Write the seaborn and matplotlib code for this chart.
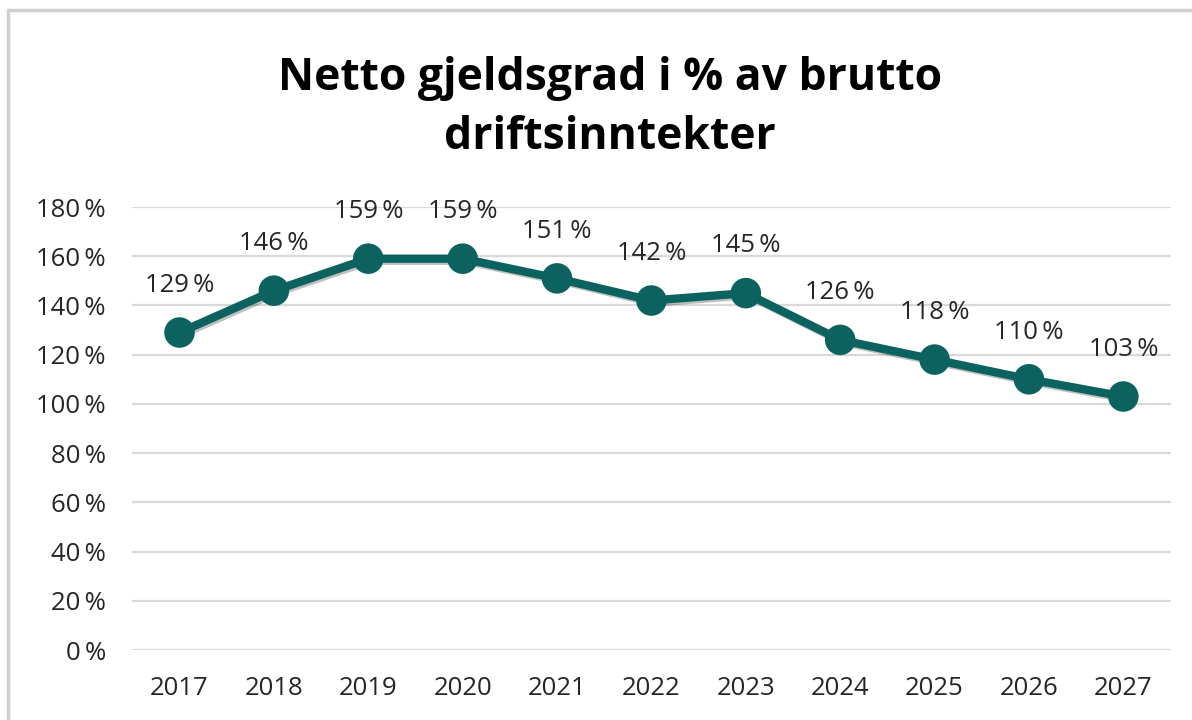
import pandas as pd
import seaborn as sns
import matplotlib.pyplot as plt
import matplotlib.patheffects as pe
from matplotlib.lines import Line2D

# Data
years = ["2017", "2018", "2019", "2020", "2021", "2022", "2023", "2024", "2025", "2026", "2027"]
values = [129, 146, 159, 159, 151, 142, 145, 126, 118, 110, 103]
yticks = [0, 20, 40, 60, 80, 100, 120, 140, 160, 180]

df = pd.DataFrame({"aar": years, "gjeldsgrad": values})

teal = "#0c625e"

sns.set_style("white")
plt.rcParams["font.family"] = ["Open Sans", "DejaVu Sans"]

fig = plt.figure(figsize=(11.92, 7.2), dpi=100)
ax = fig.add_axes([0.111, 0.0972, 0.871, 0.6153])

ax.yaxis.grid(True, color="#d9d9d9", linewidth=1.6)
ax.set_axisbelow(True)

sns.lineplot(data=df, x="aar", y="gjeldsgrad", ax=ax, color=teal,
             linewidth=6, marker="o", markersize=22, markeredgewidth=0,
             path_effects=[pe.SimpleLineShadow(offset=(1.5, -1.5), alpha=0.25),
                           pe.Normal()])

# Datalabels
for i, v in enumerate(values):
    ax.annotate(f"{v}\u2009%", xy=(i, v), xytext=(0, 34), textcoords="offset points",
                ha="center", va="center", fontsize=18.5, color="#262626")

ax.set_xlim(-0.5, len(years) - 0.5)
ax.set_ylim(0, 180)
ax.set_yticks(yticks)
ax.set_yticklabels([f"{t}\u2009%" for t in yticks])
ax.set_xlabel("")
ax.set_ylabel("")
ax.tick_params(axis="both", labelsize=18.5, colors="#262626", length=0)
ax.tick_params(axis="y", pad=19)
ax.tick_params(axis="x", pad=19)
for s in ax.spines.values():
    s.set_visible(False)

fig.text(0.512, 0.85, "Netto gjeldsgrad i % av brutto\ndriftsinntekter",
         ha="center", va="center", fontsize=32, fontweight="bold",
         linespacing=1.4, color="#000000")

# Ramme rundt diagrammet
fig.add_artist(Line2D([8 / 1192, 8 / 1192], [0, 1 - 10 / 720], color="#d0d0d0", linewidth=2.5))
fig.add_artist(Line2D([8 / 1192, 1], [1 - 10 / 720, 1 - 10 / 720], color="#d0d0d0", linewidth=2.5))

fig.savefig("out.png", dpi=100)
